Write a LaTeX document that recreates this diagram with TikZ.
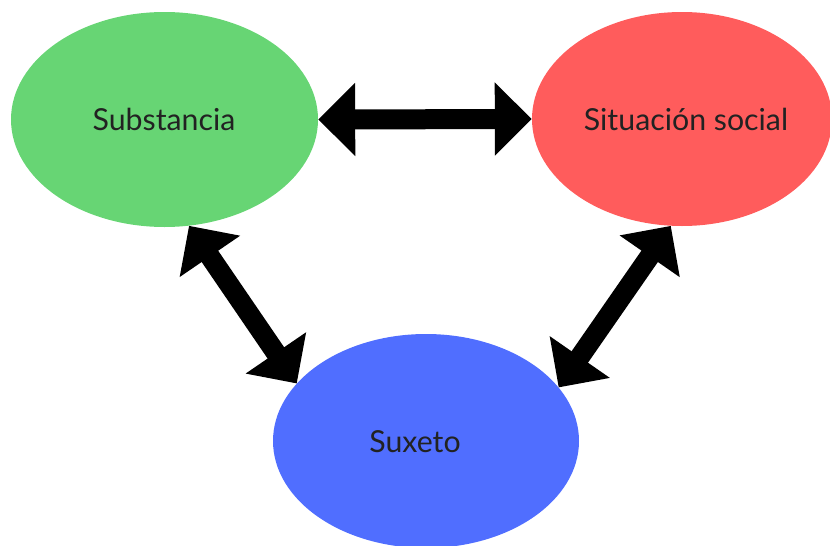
\documentclass[tikz,border=0pt]{standalone}
\usepackage{fontspec}
\setmainfont{Lato}
\usetikzlibrary{arrows.meta,shapes.geometric}
\definecolor{cgreen}{RGB}{103,213,116}
\definecolor{cred}{RGB}{255,92,92}
\definecolor{cblue}{RGB}{80,110,255}
\definecolor{ctext}{RGB}{34,34,34}
\begin{document}
\begin{tikzpicture}[x=1pt,y=-1pt,
  blob/.style={ellipse,inner sep=0pt,minimum width=307pt,minimum height=215pt},
  lbl/.style={text=ctext,font=\fontsize{30.3}{35}\selectfont,inner sep=0pt,anchor=base},
  bigarrow/.style={line width=20pt,{Triangle[length=37pt,width=71pt]}-{Triangle[length=37pt,width=71pt]}}]
  \useasboundingbox (0,0) rectangle (830,546);
  \node[blob,fill=cgreen] (g) at (164.5,119.5) {};
  \node[blob,fill=cred,minimum width=300pt,minimum height=214pt] (r) at (682,119) {};
  \node[blob,fill=cblue,minimum width=306pt,minimum height=214pt] (b) at (426,441) {};
  \node[lbl] (gt) at (164,130) {Substancia};
  \node[lbl] (rt) at (686,130) {Situación social};
  \node[lbl] (bt) at (415,452) {Suxeto};
  \draw[bigarrow] (g.east) -- (r.west);
  \draw[bigarrow] (g.-77) -- (b.156.7);
  \draw[bigarrow] (r.-96.3) -- (b.22.2);
\end{tikzpicture}
\end{document}
